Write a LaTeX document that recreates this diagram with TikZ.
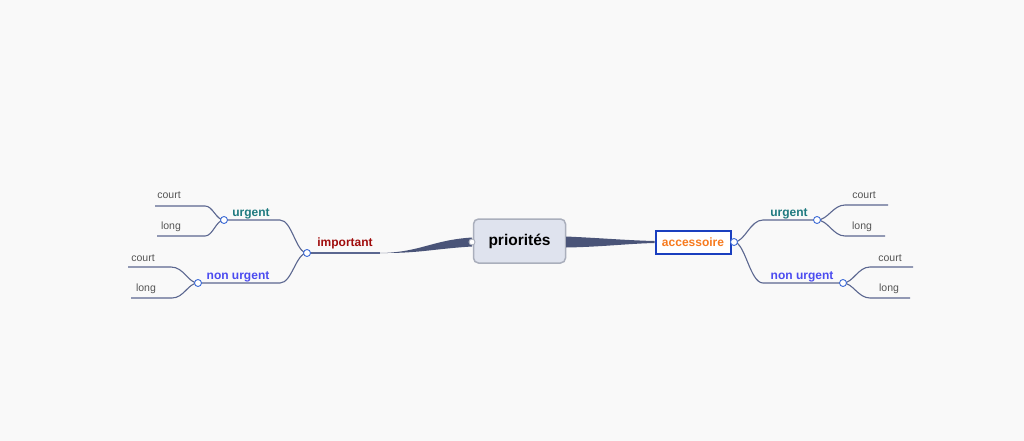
\documentclass[tikz,border=0pt]{standalone}
\usepackage{fontspec}
\setmainfont{Liberation Sans}
\definecolor{bg}{HTML}{F9F9F9}
\definecolor{edge}{HTML}{5B6790}
\definecolor{thickc}{HTML}{4A5478}
\definecolor{dot}{HTML}{3D6BD6}
\definecolor{teal}{HTML}{1F7A80}
\definecolor{violet}{HTML}{4B4BF0}
\definecolor{dred}{HTML}{A00C0C}
\definecolor{orng}{HTML}{F77A1E}
\definecolor{boxblue}{HTML}{1A3FBF}
\definecolor{leaf}{HTML}{555555}
\begin{document}
\begin{tikzpicture}[x=1pt,y=-1pt,
  lbl/.style={inner sep=0pt,anchor=base,font=\bfseries\fontsize{12}{12}\selectfont},
  leaflbl/.style={inner sep=0pt,anchor=base,text=leaf,font=\fontsize{10.5}{10.5}\selectfont},
  ln/.style={draw=edge,line width=1.1pt},
  knob/.style={circle,draw=dot,fill=white,line width=0.9pt,minimum size=7pt,inner sep=0pt}]
\fill[bg] (0,0) rectangle (1024,441);
\useasboundingbox (0,0) rectangle (1024,441);

% central
\node[draw={rgb,255:red,170;green,175;blue,188},line width=1.5pt,fill={rgb,255:red,223;green,227;blue,238},rounded corners=5pt,minimum width=92pt,minimum height=44pt,inner sep=0pt,font=\bfseries\fontsize{15.5}{15.5}\selectfont] (root) at (519.5,241) {priorités};

% important branch
\coordinate (impEnd) at (380,253);
\coordinate (impK) at (307,253);
\fill[thickc] (472,237.5) .. controls (432,240) and (420,252.5) .. (impEnd) .. controls (420,253.3) and (432,249) .. (472,246.5) -- cycle;
\node[circle,draw={rgb,255:red,170;green,175;blue,188},fill=white,line width=0.9pt,minimum size=6pt,inner sep=0pt] (rootK) at (472,242) {};
\draw[ln] (impEnd) -- (impK);
\node[lbl,text=dred] (imp) at (345,246) {important};

\coordinate (lu) at (280,220);
\coordinate (luK) at (224,220);
\coordinate (ln1) at (280,283);
\coordinate (lnK) at (198,283);
\draw[ln] (impK) .. controls (296,253) and (292,220) .. (lu) -- (luK);
\draw[ln] (impK) .. controls (296,253) and (292,283) .. (ln1) -- (lnK);
\node[lbl,text=teal] (lurg) at (251,216) {urgent};
\node[lbl,text=violet] (lnon) at (238,279) {non urgent};

\coordinate (luc) at (205,206); \coordinate (lucE) at (155,206);
\coordinate (lul) at (205,236); \coordinate (lulE) at (157,236);
\draw[ln] (luK) .. controls (216,220) and (213,206) .. (luc) -- (lucE);
\draw[ln] (luK) .. controls (216,220) and (213,236) .. (lul) -- (lulE);
\node[leaflbl] (lucT) at (169,198) {court};
\node[leaflbl] (lulT) at (171,229.5) {long};

\coordinate (lnc) at (171,267); \coordinate (lncE) at (128,267);
\coordinate (lnl) at (172,298); \coordinate (lnlE) at (131,298);
\draw[ln] (lnK) .. controls (188,283) and (184,267) .. (lnc) -- (lncE);
\draw[ln] (lnK) .. controls (188,283) and (184,298) .. (lnl) -- (lnlE);
\node[leaflbl] (lncT) at (143,261) {court};
\node[leaflbl] (lnlT) at (146,291.5) {long};

\node[knob] (impKn) at (impK) {};
\node[knob] (luKn) at (luK) {};
\node[knob] (lnKn) at (lnK) {};

% accessoire branch
\node[draw=boxblue,line width=2pt,fill=white,minimum width=75pt,minimum height=23pt,inner sep=0pt,text=orng,font=\bfseries\fontsize{12}{12}\selectfont] (acc) at (693,242) {accessoire};
\fill[thickc] (566,236.5) .. controls (600,238) and (630,240.5) .. (acc.west |- 0,241) -- (acc.west |- 0,243) .. controls (630,243.5) and (600,247) .. (566,247.5) -- cycle;
\coordinate (accK) at (734,242);

\coordinate (ru) at (763,220); \coordinate (ruK) at (817,220);
\coordinate (rn) at (763,283); \coordinate (rnK) at (843,283);
\draw[ln] (accK) .. controls (745,242) and (750,220) .. (ru) -- (ruK);
\draw[ln] (accK) .. controls (745,242) and (750,283) .. (rn) -- (rnK);
\node[lbl,text=teal] (rurg) at (789,216) {urgent};
\node[lbl,text=violet] (rnon) at (802,279) {non urgent};

\coordinate (ruc) at (845,205); \coordinate (rucE) at (888,205);
\coordinate (rul) at (845,236); \coordinate (rulE) at (885,236);
\draw[ln] (ruK) .. controls (828,220) and (833,205) .. (ruc) -- (rucE);
\draw[ln] (ruK) .. controls (828,220) and (833,236) .. (rul) -- (rulE);
\node[leaflbl] (rucT) at (864,198) {court};
\node[leaflbl] (rulT) at (862,229.5) {long};

\coordinate (rnc) at (870,267); \coordinate (rncE) at (913,267);
\coordinate (rnl) at (870,298); \coordinate (rnlE) at (910,298);
\draw[ln] (rnK) .. controls (853,283) and (858,267) .. (rnc) -- (rncE);
\draw[ln] (rnK) .. controls (853,283) and (858,298) .. (rnl) -- (rnlE);
\node[leaflbl] (rncT) at (890,261) {court};
\node[leaflbl] (rnlT) at (889,291.5) {long};

\node[knob] (accKn) at (accK) {};
\node[knob] (ruKn) at (ruK) {};
\node[knob] (rnKn) at (rnK) {};
\end{tikzpicture}
\end{document}
